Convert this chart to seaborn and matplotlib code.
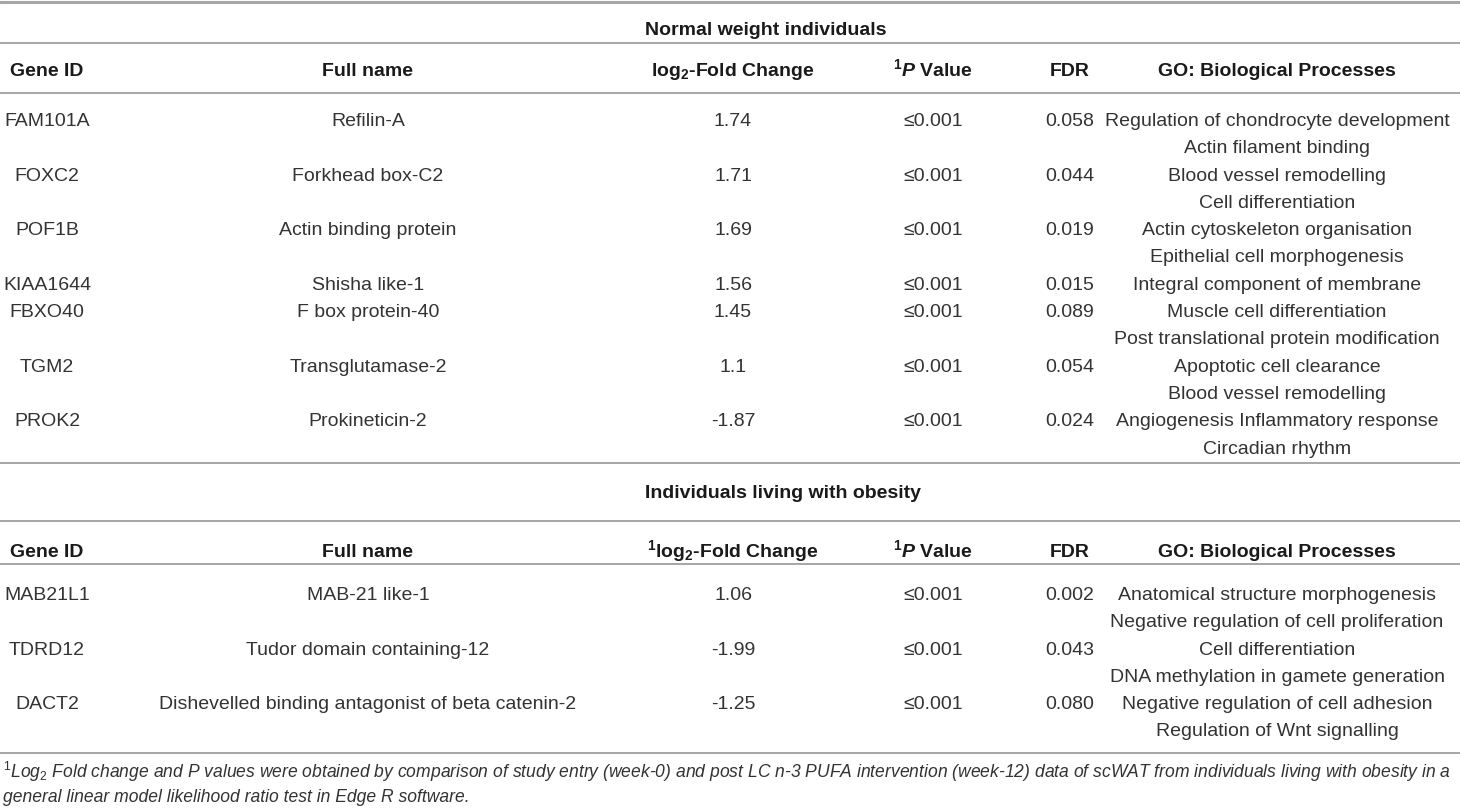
import matplotlib
matplotlib.use("Agg")
import matplotlib.pyplot as plt
import seaborn as sns

# ── Table content ────────────────────────────────────────────────────────────
NORMAL_TITLE = "Normal weight individuals"
OBESE_TITLE = "Individuals living with obesity"

NORMAL_GENES = ["FAM101A", "FOXC2", "POF1B", "KIAA1644", "FBXO40", "TGM2", "PROK2"]
NORMAL_NAMES = ["Refilin-A", "Forkhead box-C2", "Actin binding protein", "Shisha like-1",
                "F box protein-40", "Transglutamase-2", "Prokineticin-2"]
NORMAL_FC = [1.74, 1.71, 1.69, 1.56, 1.45, 1.1, -1.87]
NORMAL_P = ["≤0.001"] * 7
NORMAL_FDR = [0.058, 0.044, 0.019, 0.015, 0.089, 0.054, 0.024]
NORMAL_GO = [
    ["Regulation of chondrocyte development", "Actin filament binding"],
    ["Blood vessel remodelling", "Cell differentiation"],
    ["Actin cytoskeleton organisation", "Epithelial cell morphogenesis"],
    ["Integral component of membrane"],
    ["Muscle cell differentiation", "Post translational protein modification"],
    ["Apoptotic cell clearance", "Blood vessel remodelling"],
    ["Angiogenesis Inflammatory response", "Circadian rhythm"],
]

OBESE_GENES = ["MAB21L1", "TDRD12", "DACT2"]
OBESE_NAMES = ["MAB-21 like-1", "Tudor domain containing-12",
               "Dishevelled binding antagonist of beta catenin-2"]
OBESE_FC = [1.06, -1.99, -1.25]
OBESE_P = ["≤0.001"] * 3
OBESE_FDR = [0.002, 0.043, 0.080]
OBESE_GO = [
    ["Anatomical structure morphogenesis", "Negative regulation of cell proliferation"],
    ["Cell differentiation", "DNA methylation in gamete generation"],
    ["Negative regulation of cell adhesion", "Regulation of Wnt signalling"],
]

NORMAL_HEADERS = ["Gene ID", "Full name", r"log$_\mathbf{2}$-Fold Change",
                  r"$^\mathbf{1}\mathbfit{P}$ Value", "FDR", "GO: Biological Processes"]
OBESE_HEADERS = ["Gene ID", "Full name", r"$^\mathbf{1}$log$_\mathbf{2}$-Fold Change",
                 r"$^\mathbf{1}\mathbfit{P}$ Value", "FDR", "GO: Biological Processes"]

FOOTNOTE = [
    r"$\mathit{^1Log_2}$ Fold change and $\mathit{P}$ values were obtained by comparison of study entry "
    r"(week-0) and post LC n-3 PUFA intervention (week-12) data of scWAT from individuals living with obesity in a",
    "general linear model likelihood ratio test in Edge R software.",
]

# ── Layout (pixel coordinates, y grows downward) ─────────────────────────────
W, H = 1460, 810
COL_X = [47, 368, 733, 933, 1070, 1277]
LINE_H = 27.3
FS = 14
TEXT_C = "#333333"
RULE_C = "#a6a6a6"

sns.set_theme(style="white")
plt.rcParams["font.family"] = ["Liberation Sans", "DejaVu Sans"]
plt.rcParams.update({
    "mathtext.fontset": "custom",
    "mathtext.rm": "Liberation Sans",
    "mathtext.it": "Liberation Sans:italic",
    "mathtext.bf": "Liberation Sans:bold",
    "mathtext.bfit": "Liberation Sans:italic:bold",
})

fig = plt.figure(figsize=(W / 100, H / 100), dpi=100)
ax = fig.add_axes([0, 0, 1, 1])
ax.set_xlim(0, W)
ax.set_ylim(H, 0)
ax.set_axis_off()


def rule(y, lw=1.4):
    ax.axhline(y, color=RULE_C, linewidth=lw)


def section(title, title_y, header_y, first_y, headers, genes, names, fc, pv, fdr, go):
    ax.text(645, title_y, title, ha="left", va="baseline", fontsize=FS,
            fontweight="bold", color="#1a1a1a")
    for x, h in zip(COL_X, headers):
        ax.text(x, header_y, h, ha="center", va="baseline", fontsize=FS,
                fontweight="bold", color="#1a1a1a")
    y = first_y
    for i, gene in enumerate(genes):
        cells = [gene, names[i], str(fc[i]), pv[i], f"{fdr[i]:.3f}"]
        for x, c in zip(COL_X, cells):
            ax.text(x, y, c, ha="center", va="baseline", fontsize=FS, color=TEXT_C)
        for j, term in enumerate(go[i]):
            ax.text(COL_X[5], y + j * LINE_H, term, ha="center", va="baseline",
                    fontsize=FS, color=TEXT_C)
        y += LINE_H * len(go[i])


rule(2, lw=2.2)
rule(43)
rule(93)
section(NORMAL_TITLE, 35, 76, 126, NORMAL_HEADERS, NORMAL_GENES, NORMAL_NAMES,
        NORMAL_FC, NORMAL_P, NORMAL_FDR, NORMAL_GO)
rule(463)
rule(521)
rule(564)
section(OBESE_TITLE, 498, 557, 600, OBESE_HEADERS, OBESE_GENES, OBESE_NAMES,
        OBESE_FC, OBESE_P, OBESE_FDR, OBESE_GO)
rule(753)

for k, line in enumerate(FOOTNOTE):
    ax.text(3, 778 + k * 23.5, line, ha="left", va="baseline", fontsize=12.65,
            fontstyle="italic", color=TEXT_C)

fig.savefig("out.png", dpi=100)
